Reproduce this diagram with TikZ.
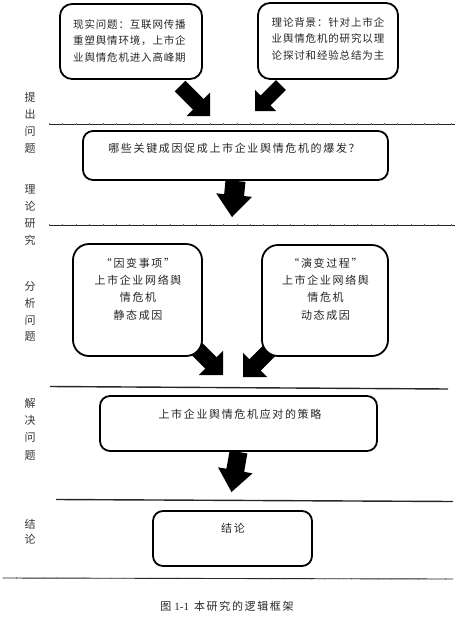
\documentclass[tikz,border=0pt]{standalone}
\usepackage{fontspec}
\setmainfont{Liberation Serif}
\newfontfamily\cjk{Noto Sans CJK SC}[LetterSpace=15]
\newfontfamily\cjks{Noto Sans CJK SC}[LetterSpace=8]
\newfontfamily\cjkn{Noto Sans CJK SC}
\usetikzlibrary{calc}
\newcommand{\blockarrow}[5]{%
  \coordinate (ba) at ($(#2)!#5!(#1)$);
  \fill[black] ($(#1)!#3!90:(#2)$) -- ($(ba)!#3!90:(#2)$) -- ($(ba)!#4!90:(#2)$)
    -- (#2) -- ($(ba)!#4!-90:(#2)$) -- ($(ba)!#3!-90:(#2)$) -- ($(#1)!#3!-90:(#2)$) -- cycle;}
\begin{document}
\begin{tikzpicture}[x=1pt,y=-1pt,
  box/.style={draw=black, line width=1.8pt, rounded corners=12pt, fill=white, inner sep=0pt},
  txt/.style={text=black!85, font=\cjk\fontsize{11}{17.2}\selectfont, inner sep=0pt, align=center},
  txts/.style={text=black!85, font=\cjks\fontsize{10.5}{16.5}\selectfont, inner sep=0pt, align=left, anchor=west},
  side/.style={text=black!80, font=\cjkn\fontsize{11}{16.8}\selectfont, inner sep=0pt, align=center},
  rule/.style={line width=0.9pt, black!85},
  rulethick/.style={line width=1.4pt, black!85},
  ticks/.style={line width=1.8pt, black!60, dash pattern=on 0.4pt off 13pt}]
\useasboundingbox (0,0) rectangle (474,635);

% horizontal rules
\coordinate (l1a) at (49,124); \coordinate (l1b) at (455,124);
\coordinate (l2a) at (49,225); \coordinate (l2b) at (455,225);
\coordinate (l3a) at (50,386.5); \coordinate (l3b) at (448,389);
\coordinate (l4a) at (56,499.5); \coordinate (l4b) at (453,501.5);
\coordinate (l5a) at (3,578); \coordinate (l5b) at (453,579);
\draw[rule] (l1a) -- (l1b); \draw[ticks] (l1a) -- (l1b);
\draw[rule] (l2a) -- (l2b); \draw[ticks] (l2a) -- (l2b);
\draw[rulethick] (l3a) -- (l3b);
\draw[rulethick] (l4a) -- (l4b);
\draw[rule] (l5a) -- (l5b); \draw[ticks] (l5a) -- (l5b);

% arrows (drawn before boxes so boxes cover tails)
\coordinate (a1s) at (180,86); \coordinate (a1t) at (210,116);
\coordinate (a2s) at (281,85); \coordinate (a2t) at (255,111);
\coordinate (a3s) at (186,338); \coordinate (a3t) at (223,375);
\coordinate (a4s) at (280,340); \coordinate (a4t) at (243,377);
\blockarrow{a1s}{a1t}{7.5pt}{16.5pt}{16.5pt}
\blockarrow{a2s}{a2t}{7pt}{15pt}{15pt}
\blockarrow{a3s}{a3t}{8pt}{17pt}{17pt}
\blockarrow{a4s}{a4t}{8pt}{17pt}{17pt}

% boxes
\node[box, minimum width=142pt, minimum height=75pt] (b1) at (131,41.5) {};
\node[box, minimum width=140pt, minimum height=76pt] (b2) at (328,41) {};
\node[box, rounded corners=10pt, minimum width=305pt, minimum height=49pt] (b3) at (235.5,155.5) {};
\node[box, rounded corners=16pt, minimum width=129pt, minimum height=112pt] (b4) at (137.5,300) {};
\node[box, rounded corners=16pt, minimum width=126pt, minimum height=111pt] (b5) at (325,300.5) {};
\node[box, rounded corners=10pt, minimum width=277pt, minimum height=55pt] (b6) at (238.5,423.5) {};
\node[box, rounded corners=10pt, minimum width=159pt, minimum height=55pt] (b7) at (232.5,538.5) {};

% down arrows
\coordinate (d1t) at (232,217);
\coordinate (d2t) at (231.5,492);
\blockarrow{b3.south}{d1t}{10pt}{18pt}{22pt}
\blockarrow{b6.south}{d2t}{9pt}{17.5pt}{22pt}

% box texts
\node[txts] (t1) at (73,40.7) {现实问题：互联网传播\\重塑舆情环境，上市企\\业舆情危机进入高峰期};
\node[txts, font=\cjks\fontsize{10.5}{16.2}\selectfont] (t2) at (271.5,38.8) {理论背景：针对上市企\\业舆情危机的研究以理\\论探讨和经验总结为主};
\node[txt] (t3) at (234,148) {哪些关键成因促成上市企业舆情危机的爆发？};
\node[txt] (t4) at (138,289.2) {“因变事项”\\上市企业网络舆\\情危机\\静态成因};
\node[txt] (t5) at (325.5,289.2) {“演变过程”\\上市企业网络舆\\情危机\\动态成因};
\node[txt] (t6) at (240,414) {上市企业舆情危机应对的策略};
\node[txt] (t7) at (233,528) {结论};

% side labels
\node[side] (s1) at (30,122.8) {提\\出\\问\\题};
\node[side] (s2) at (30,215) {理\\论\\研\\究};
\node[side] (s3) at (30,311.7) {分\\析\\问\\题};
\node[side, font=\cjkn\fontsize{11}{17.4}\selectfont] (s4) at (30,429) {解\\决\\问\\题};
\node[side, font=\cjkn\fontsize{11}{15.3}\selectfont] (s5) at (30,531.7) {结\\论};

% caption
\node[inner sep=0pt, text=black!85, font=\fontsize{11}{13}\selectfont] (cap) at (227,606) {{\cjk 图}\hspace{3pt}1-1\hspace{5pt}{\cjk 本研究的逻辑框架}};
\end{tikzpicture}
\end{document}
